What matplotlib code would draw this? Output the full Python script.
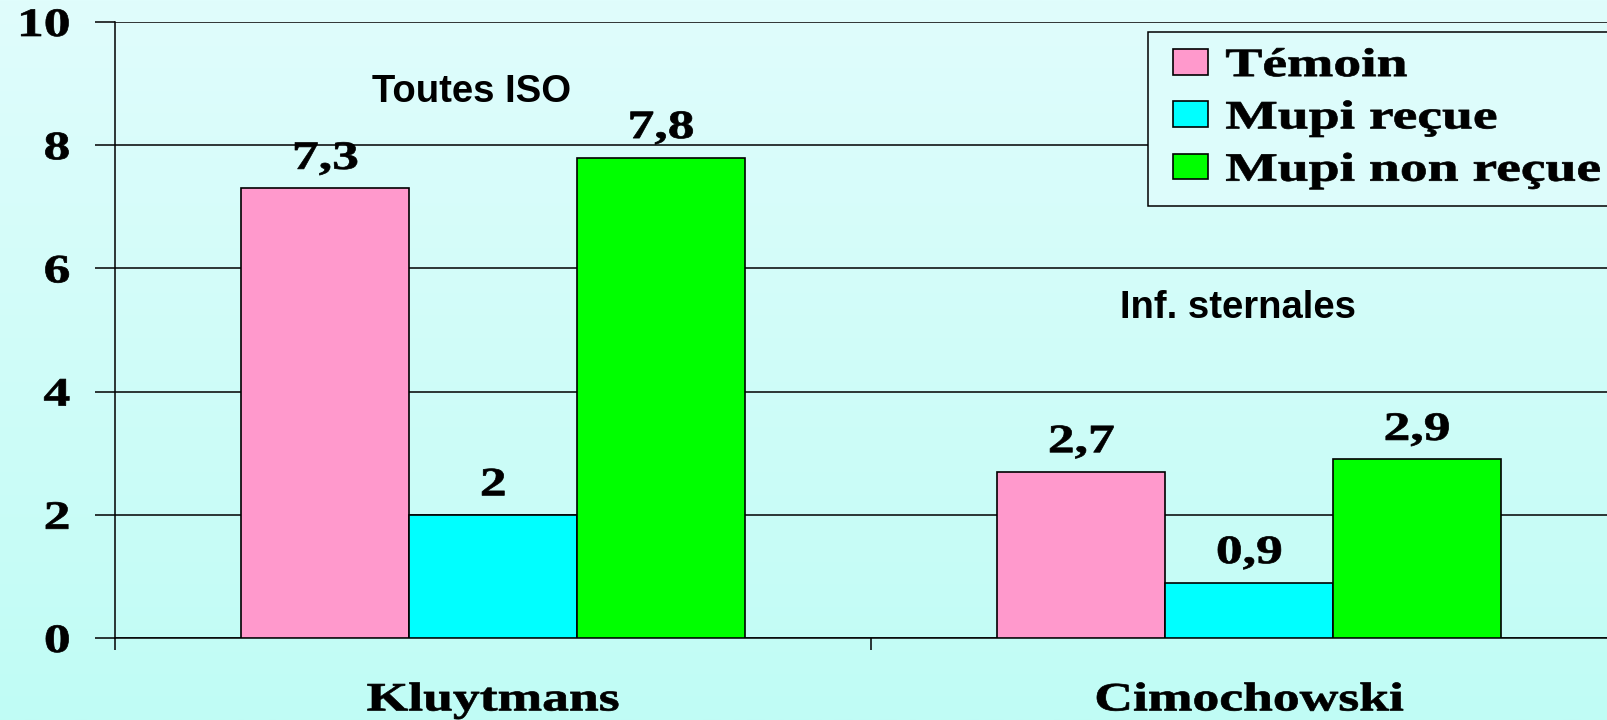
import numpy as np
import matplotlib
matplotlib.use('Agg')
import matplotlib.pyplot as plt
from matplotlib.patheffects import AbstractPathEffect
from matplotlib.transforms import Affine2D
from matplotlib.patches import Patch
from matplotlib.legend_handler import HandlerPatch

# données
etudes = ['Kluytmans', 'Cimochowski']
series = ['Témoin', 'Mupi reçue', 'Mupi non reçue']
temoin = [7.3, 2.7]
mupi_recue = [2, 0.9]
mupi_non_recue = [7.8, 2.9]
notes = ['Toutes ISO', 'Inf. sternales']
couleurs = ['#ff99cc', '#00ffff', '#00ff00']

SERIF = 'Liberation Serif'
SANS = 'Liberation Sans'


class Etire(AbstractPathEffect):
    # la police Times de l'original est étirée en largeur (et un peu plus grasse)
    def __init__(self, sx=1.33, ancre='center', trait=0.5):
        super().__init__()
        self.sx = sx
        self.ancre = ancre
        self.trait = trait

    def draw_path(self, renderer, gc, tpath, affine, rgbFace=None):
        v = tpath.vertices
        if len(v) == 0:
            return
        if self.ancre == 'left':
            p = 0
        elif self.ancre == 'right':
            p = v[:, 0].max()
        else:
            p = (v[:, 0].min() + v[:, 0].max()) / 2
        t = Affine2D().translate(-p, 0).scale(self.sx, 1).translate(p, 0) + affine
        gc0 = renderer.new_gc()
        gc0.copy_properties(gc)
        gc0.set_linewidth(self.trait)
        gc0.set_foreground(rgbFace)
        renderer.draw_path(gc0, tpath, t, rgbFace)
        gc0.restore()


fig = plt.figure(figsize=(16.07, 7.2), dpi=100)

# fond en dégradé cyan clair
bg = fig.add_axes([0, 0, 1, 1], zorder=-10)
haut = np.array([224, 253, 252]) / 255
bas = np.array([192, 252, 245]) / 255
g = np.linspace(0, 1, 256)[:, None, None]
bg.imshow(haut + (bas - haut) * g, aspect='auto', extent=[0, 1, 0, 1])
bg.axis('off')

ax = fig.add_axes([115 / 1607, 82 / 720, 1512 / 1607, 616 / 720])
ax.set_facecolor('none')

x = np.arange(len(etudes))
w = 0.222
for i, vals in enumerate([temoin, mupi_recue, mupi_non_recue]):
    pos = x + (i - 1) * w
    ax.bar(pos, vals, w, color=couleurs[i], edgecolor='black', linewidth=1.2, zorder=3)
    for xp, v in zip(pos, vals):
        t = ax.annotate(f'{v:g}'.replace('.', ','), (xp, v), xytext=(0, 14),
                        textcoords='offset points', ha='center', va='baseline',
                        fontsize=29, fontweight='bold', family=SERIF)
        t.set_path_effects([Etire()])

ax.set_xlim(-0.5, 1.5)
ax.set_ylim(0, 10)
ax.set_yticks([0, 2, 4, 6, 8, 10])
ax.yaxis.grid(True, color='black', lw=1.1)
ax.set_axisbelow(True)

ax.tick_params(axis='y', length=14.4, width=1.1, pad=18, labelsize=29)
for lbl in ax.get_yticklabels():
    lbl.set_fontweight('bold')
    lbl.set_family(SERIF)
    lbl.set_path_effects([Etire(ancre='right')])

ax.set_xticks(x)
ax.set_xticklabels(etudes, fontsize=29, fontweight='bold', family=SERIF)
for lbl in ax.get_xticklabels():
    lbl.set_path_effects([Etire()])
ax.set_xticks([-0.5, 0.5, 1.5], minor=True)
ax.tick_params(axis='x', which='major', length=0, pad=32)
ax.tick_params(axis='x', which='minor', length=8.6, width=1.1)

for s in ['top', 'right']:
    ax.spines[s].set_visible(False)
for s in ['left', 'bottom']:
    ax.spines[s].set_linewidth(1.1)

ax.text(-0.029, 8.87, notes[0], ha='center', va='center', fontsize=27.5,
        fontweight='bold', family=SANS)
ax.text(0.985, 5.35, notes[1], ha='center', va='center', fontsize=27.5,
        fontweight='bold', family=SANS)

poignees = [Patch(facecolor=c, edgecolor='black', linewidth=1.2) for c in couleurs]
leg = ax.legend(poignees, series, loc='upper left',
                bbox_to_anchor=(1148 / 1607, 1 - 32 / 720, 500 / 1607, 0),
                bbox_transform=fig.transFigure, mode='expand', borderaxespad=0,
                handler_map={Patch: HandlerPatch(xpad=0.22)},
                prop={'family': SERIF, 'weight': 'bold', 'size': 29},
                handlelength=1.08, handleheight=0.61, handletextpad=0.44,
                labelspacing=0.38, borderpad=0.4, fancybox=False, framealpha=1,
                facecolor='#ddfcfb', edgecolor='black')
leg.get_frame().set_linewidth(1.1)
for t in leg.get_texts():
    t.set_path_effects([Etire(sx=1.38, ancre='left')])

fig.savefig('out.png', dpi=100)
